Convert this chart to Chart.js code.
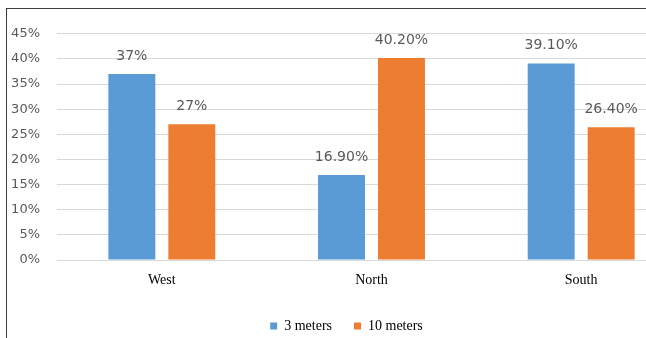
<!DOCTYPE html>
<html>
<head>
<meta charset="utf-8">
<script src="https://cdn.jsdelivr.net/npm/chart.js@4"></script>
<style>
  html, body { margin: 0; padding: 0; background: #fff; overflow: hidden; }
  #frame {
    position: absolute; left: 6px; top: 8px;
    border-left: 1px solid #3c3c3c; border-top: 1px solid #3c3c3c;
    width: 695px; height: 340px;
  }
</style>
</head>
<body>
<div id="frame"><canvas id="myChart" width="695" height="340"></canvas></div>
<script>
// chart data
const categories = ['West', 'North', 'South'];
const seriesNames = ['3 meters', '10 meters'];
const threeMeters = [37, 16.9, 39.1];
const tenMeters = [27, 40.2, 26.4];
const threeLabels = ['37%', '16.90%', '39.10%'];
const tenLabels = ['27%', '40.20%', '26.40%'];
const yTicks = [0, 5, 10, 15, 20, 25, 30, 35, 40, 45];

// draws the value text over each bar
const valueLabels = {
  id: 'valueLabels',
  afterDatasetsDraw(chart) {
    const ctx = chart.ctx;
    ctx.save();
    ctx.font = '14px "DejaVu Sans"';
    ctx.fillStyle = '#595959';
    ctx.textAlign = 'center';
    ctx.textBaseline = 'middle';
    chart.data.datasets.forEach((ds, i) => {
      chart.getDatasetMeta(i).data.forEach((bar, j) => {
        ctx.fillText(ds.valueText[j], bar.x, bar.y - 18);
      });
    });
    ctx.restore();
  }
};

const ctx = document.getElementById('myChart').getContext('2d');
const chart = new Chart(ctx, {
  type: 'bar',
  data: {
    labels: categories,
    datasets: [{
      label: seriesNames[0],
      data: threeMeters,
      valueText: threeLabels,
      backgroundColor: '#5B9BD5'
    }, {
      label: seriesNames[1],
      data: tenMeters,
      valueText: tenLabels,
      backgroundColor: '#ED7D31'
    }]
  },
  options: {
    responsive: false,
    animation: false,
    categoryPercentage: 0.572,
    barPercentage: 0.783,
    layout: { padding: { top: 23, left: 0, right: 16, bottom: 6 } },
    plugins: {
      tooltip: { enabled: false },
      legend: {
        position: 'bottom',
        labels: {
          boxWidth: 7,
          boxHeight: 7,
          padding: 22,
          color: '#000',
          font: { family: '"Liberation Serif"', size: 14 }
        }
      }
    },
    scales: {
      x: {
        grid: { display: false, drawTicks: false },
        border: { display: false },
        ticks: {
          padding: 12,
          color: '#000',
          font: { family: '"Liberation Serif"', size: 14 }
        },
        afterFit(scale) { scale.height = 37; }
      },
      y: {
        min: 0,
        max: 45,
        afterBuildTicks(scale) { scale.ticks = yTicks.map(v => ({ value: v })); },
        grid: { color: '#d9d9d9', lineWidth: 1, drawTicks: false },
        border: { display: false },
        ticks: {
          padding: 17,
          color: '#595959',
          font: { family: '"DejaVu Sans"', size: 13 },
          callback: v => v + '%'
        },
        afterFit(scale) { scale.width = 50; }
      }
    }
  },
  plugins: [valueLabels]
});
</script>
</body>
</html>
